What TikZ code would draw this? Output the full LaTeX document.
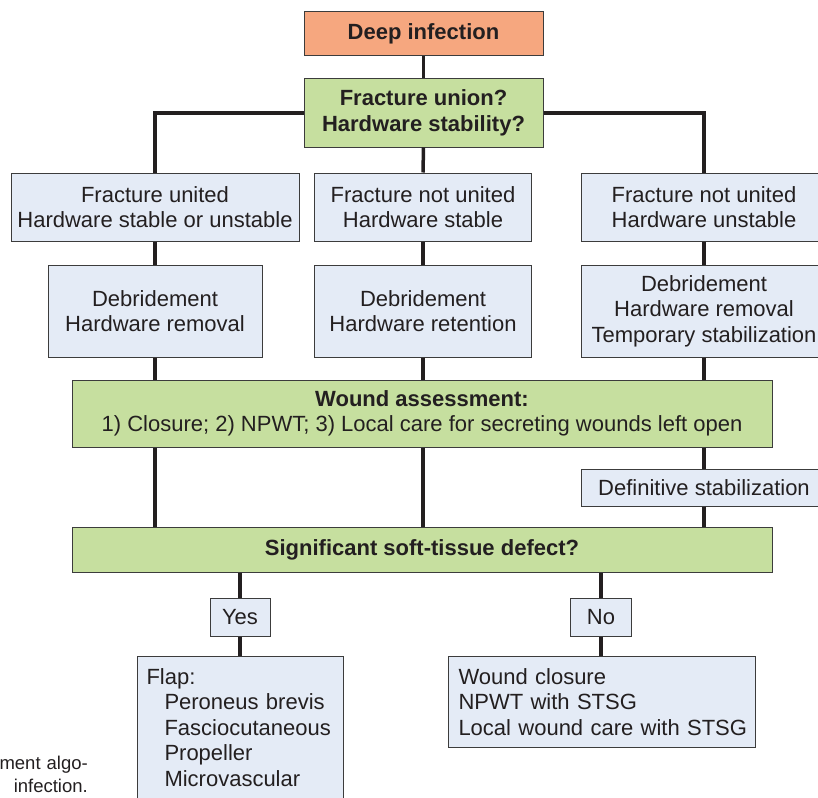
\documentclass[tikz,border=0pt]{standalone}
\usepackage{fontspec}
\setmainfont{Liberation Sans}
\definecolor{ink}{HTML}{231F20}
\definecolor{boxline}{HTML}{3C3C3C}
\definecolor{paleblue}{HTML}{E4EBF6}
\definecolor{leafgreen}{HTML}{C6DF9F}
\definecolor{salmon}{HTML}{F6A77F}

\begin{document}
\begin{tikzpicture}[x=1pt,y=-1pt,
    font=\fontsize{22}{25.5}\selectfont,
    box/.style={draw=boxline,line width=1pt,fill=paleblue,text=ink,align=center,inner sep=0pt},
    qbox/.style={box,fill=leafgreen},
    link/.style={draw=ink,line width=3.5pt}]
  \useasboundingbox (0,0) rectangle (818,797) ;
  % top of the tree
  \node[box,fill=salmon,minimum width=239,minimum height=44] (deep) at (423.5,34) {\textbf{Deep infection}} ;
  \node[qbox,minimum width=239,minimum height=68] (union) at (423.5,113) %
    {\textbf{Fracture union?}\\\textbf{Hardware stability?}} ;
  % three columns
  \node[box,minimum width=288,minimum height=68] (fu) at (155,207) %
    {Fracture united\\Hardware stable or unstable} ;
  \node[box,minimum width=217,minimum height=68] (fns) at (423,207) %
    {Fracture not united\\Hardware stable} ;
  \node[box,minimum width=246,minimum height=68] (fnu) at (704,207) %
    {Fracture not united\\Hardware unstable} ;
  \node[box,minimum width=214,minimum height=92] (debl) at (155,311) %
    {Debridement\\Hardware removal} ;
  \node[box,minimum width=217,minimum height=92] (debm) at (423,311) %
    {Debridement\\Hardware retention} ;
  \node[box,minimum width=246,minimum height=92] (debr) at (704,311) %
    {Debridement\\Hardware removal\\Temporary stabilization} ;
  % wound care
  \node[qbox,minimum width=700,minimum height=67] (wound) at (422,413.5) %
    {\textbf{Wound assessment:}\\1) Closure; 2) NPWT; 3) Local care for secreting wounds left open} ;
  \node[box,minimum width=246,minimum height=37] (defin) at (704,487.5) {Definitive stabilization} ;
  \node[qbox,minimum width=700,minimum height=45] (soft) at (422,549.5) %
    {\textbf{Significant soft-tissue defect?}} ;
  \node[box,minimum width=60,minimum height=38] (yes) at (240,617) {Yes} ;
  \node[box,minimum width=61,minimum height=38] (no) at (601,617) {No} ;
  \node[box,anchor=north west,align=left,text width=188,inner xsep=9,inner ysep=12] (flap) at (137,656) %
    {Flap:\\\hspace*{18pt}Peroneus brevis\\\hspace*{18pt}Fasciocutaneous\\%
     \hspace*{18pt}Propeller\\\hspace*{18pt}Microvascular\\\strut} ;
  \node[box,anchor=north west,align=left,text width=287,inner xsep=10,inner ysep=12] (close) at (448,656) %
    {Wound closure\\NPWT with STSG\\\mbox{Local wound care with STSG}} ;
  % caption fragment at the left edge
  \node[text=ink,anchor=base east,inner sep=0pt,font=\fontsize{18.5}{23}\selectfont] (cap1) at (88,769) {ment\hspace{6pt}algo-} ;
  \node[text=ink,anchor=base east,inner sep=0pt,font=\fontsize{18.5}{23}\selectfont] (cap2) at (88,792) {infection.} ;
  % connectors
  \draw[link] (deep) -- (union) ;
  \draw[link] (union.west) -| (fu.north) ;
  \draw[link] (union.east) -| (fnu.north) ;
  \draw[link] (union.south) -- (fns.north) ;
  \draw[link] (fu) -- (debl) ;
  \draw[link] (fns) -- (debm) ;
  \draw[link] (fnu) -- (debr) ;
  \draw[link] (debl.south) -- (debl.south |- wound.north) ;
  \draw[link] (debm.south) -- (debm.south |- wound.north) ;
  \draw[link] (debr.south) -- (debr.south |- wound.north) ;
  \draw[link] (wound.south -| debl) -- (soft.north -| debl) ;
  \draw[link] (wound.south -| debm) -- (soft.north -| debm) ;
  \draw[link] (wound.south -| defin) -- (defin.north) ;
  \draw[link] (defin.south) -- (soft.north -| defin) ;
  \draw[link] (soft.south -| yes) -- (yes.north) ;
  \draw[link] (soft.south -| no) -- (no.north) ;
  \draw[link] (yes) -- (yes |- flap.north) ;
  \draw[link] (no) -- (no |- close.north) ;
\end{tikzpicture}
\end{document}
